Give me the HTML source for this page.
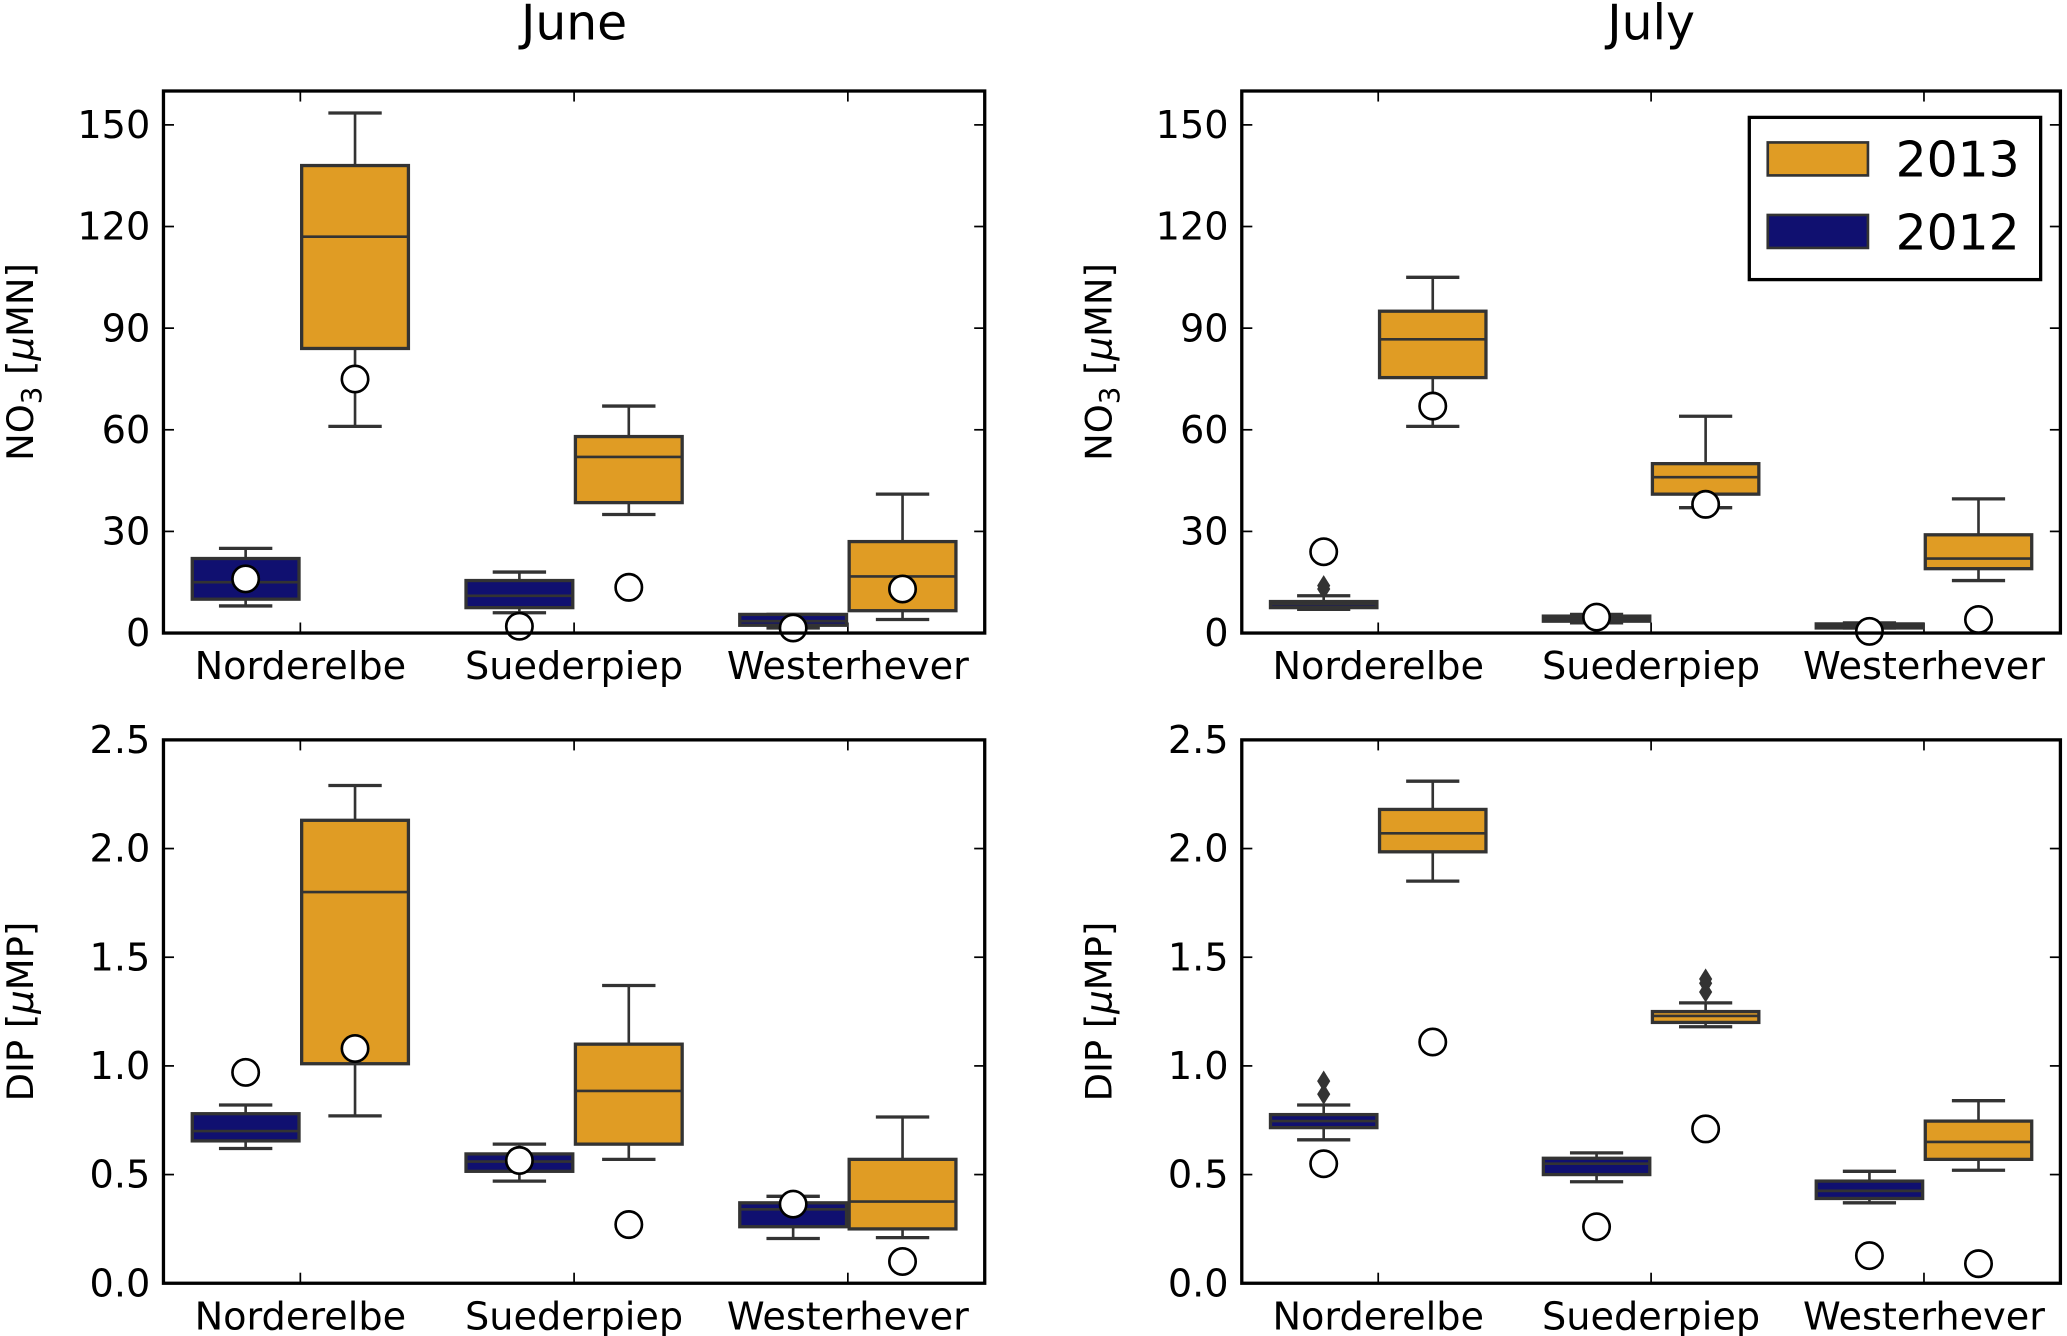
<!DOCTYPE html>
<html><head><meta charset="utf-8"><style>
html,body{margin:0;padding:0;background:#fff;overflow:hidden;}
svg{display:block;font-family:"DejaVu Sans","Liberation Sans",sans-serif;}
</style></head><body>
<svg id="fig" width="2067" height="1336" viewBox="0 0 1568 1013" preserveAspectRatio="none" xmlns="http://www.w3.org/2000/svg"></svg>
<script>
const categories = ["Norderelbe","Suederpiep","Westerhever"];
const hues = ["2012","2013"];
// [low, q1, median, q3, high] per category per hue
const juneNO3_2012 = [[8,10,15,22,25],[6,7.5,11,15.5,18],[1.5,2.3,3.5,5.5,5.5]];
const juneNO3_2013 = [[61,84,117,138,153.5],[35,38.5,52,58,67],[4,6.6,16.7,27,41]];
const juneNO3_circ = [[16,75],[2,13.5],[1.5,13]];
const juneNO3_fliers12 = [[],[],[]];
const juneNO3_fliers13 = [[],[],[]];
const julyNO3_2012 = [[7,7.5,8.5,9.3,11],[3,3.5,4.3,5,5.5],[1.5,1.5,2,2.7,3]];
const julyNO3_2013 = [[61,75.4,86.7,95,105],[37,41,46,50,64],[15.5,19,22,29,39.6]];
const julyNO3_circ = [[24,67],[4.7,38],[0.5,4]];
const julyNO3_fliers12 = [[13,14],[],[]];
const julyNO3_fliers13 = [[],[],[]];
const juneDIP_2012 = [[0.62,0.655,0.70,0.78,0.82],[0.47,0.515,0.56,0.595,0.64],[0.206,0.26,0.34,0.37,0.40]];
const juneDIP_2013 = [[0.77,1.01,1.80,2.13,2.29],[0.57,0.64,0.885,1.10,1.37],[0.21,0.25,0.376,0.57,0.765]];
const juneDIP_circ = [[0.97,1.08],[0.565,0.27],[0.364,0.10]];
const juneDIP_fliers12 = [[],[],[]];
const juneDIP_fliers13 = [[],[],[]];
const julyDIP_2012 = [[0.66,0.716,0.746,0.776,0.82],[0.467,0.50,0.55,0.575,0.60],[0.37,0.39,0.425,0.47,0.515]];
const julyDIP_2013 = [[1.85,1.985,2.07,2.18,2.31],[1.18,1.20,1.23,1.25,1.29],[0.52,0.57,0.65,0.746,0.84]];
const julyDIP_circ = [[0.55,1.11],[0.26,0.71],[0.127,0.09]];
const julyDIP_fliers12 = [[0.87,0.93],[],[]];
const julyDIP_fliers13 = [[],[1.34,1.38,1.40],[]];
const no3Ticks = [0,30,60,90,120,150];
const dipTicks = ["0.0","0.5","1.0","1.5","2.0","2.5"];

const NS="http://www.w3.org/2000/svg";
const svg=document.getElementById('fig');
const ORANGE="#e09c24", BLUE="#101070", EDGE="#333333";
function el(tag,attrs,parent){const e=document.createElementNS(NS,tag);for(const k in attrs)e.setAttribute(k,attrs[k]);(parent||svg).appendChild(e);return e;}

function panel(name,x0,x1,y0,y1,ymax,ticks,ylab,d12,d13,circ,f12,f13,title,legend){
  const g=el('g',{});
  
  
  const ys=v=>y1-(v/ymax)*(y1-y0);
  const gw=(x1-x0)/3;
  const xc=i=>x0+gw*(i+0.5);
  const bw=gw*0.39;
  ticks.forEach(t=>{
    const v=parseFloat(t);const y=ys(v);
    el('line',{x1:x0,x2:x0+8,y1:y,y2:y,stroke:'#000','stroke-width':1.3},g);
    el('line',{x1:x1-8,x2:x1,y1:y,y2:y,stroke:'#000','stroke-width':1.3},g);
    const tx=el('text',{x:x0-10,y:y+10,'text-anchor':'end','font-size':29,fill:'#000'},g);
    tx.textContent=t;
    
    
  });
  categories.forEach((c,i)=>{
    const x=xc(i);
    el('line',{x1:x,x2:x,y1:y1,y2:y1-8,stroke:'#000','stroke-width':1.3},g);
    el('line',{x1:x,x2:x,y1:y0,y2:y0+8,stroke:'#000','stroke-width':1.3},g);
    const tx=el('text',{x:x,y:y1+35,'text-anchor':'middle','font-size':29,fill:'#000'},g);
    tx.textContent=c;
    
    
    [[d12,BLUE,-1,f12],[d13,ORANGE,1,f13]].forEach(([d,col,s,fl],h)=>{
      const q=d[i];const cx=x+s*bw/2+s*1;
      const bx=el('g',{},g);
      
      
      const cap=bw*0.5;
      el('line',{x1:cx,x2:cx,y1:ys(q[0]),y2:ys(q[1]),stroke:EDGE,'stroke-width':2},bx);
      el('line',{x1:cx,x2:cx,y1:ys(q[3]),y2:ys(q[4]),stroke:EDGE,'stroke-width':2},bx);
      el('line',{x1:cx-cap/2,x2:cx+cap/2,y1:ys(q[0]),y2:ys(q[0]),stroke:EDGE,'stroke-width':2.5},bx);
      el('line',{x1:cx-cap/2,x2:cx+cap/2,y1:ys(q[4]),y2:ys(q[4]),stroke:EDGE,'stroke-width':2.5},bx);
      el('rect',{x:cx-bw/2,y:ys(q[3]),width:bw,height:Math.max(1,ys(q[1])-ys(q[3])),fill:col,stroke:EDGE,'stroke-width':2.5},bx);
      el('line',{x1:cx-bw/2,x2:cx+bw/2,y1:ys(q[2]),y2:ys(q[2]),stroke:EDGE,'stroke-width':2},bx);
      fl[i].forEach(v=>{
        const y=ys(v);
        const p=el('polygon',{points:`${cx},${y-8} ${cx+5},${y} ${cx},${y+8} ${cx-5},${y}`,fill:EDGE},bx);
        
        
      });
    });
    [-1,1].forEach((s,h)=>{
      const cx=x+s*bw/2+s*1;
      const ci=el('ellipse',{cx:cx,cy:ys(circ[i][h]),rx:10,ry:10,fill:'#fff',stroke:'#000','stroke-width':2},g);
      
      
    });
  });
  el('rect',{x:x0,y:y0,width:x1-x0,height:y1-y0,fill:'none',stroke:'#000','stroke-width':2.5},g);
  const yl=el('text',{x:0,y:0,transform:`translate(${x0-99},${(y0+y1)/2}) rotate(-90)`,'text-anchor':'middle','font-size':28,fill:'#000'},g);
  yl.innerHTML=ylab;
  
  
  if(title){
    const t=el('text',{x:(x0+x1)/2,y:30,'text-anchor':'middle','font-size':37,fill:'#000'},g);
    t.textContent=title;
    
    
  }
  if(legend){
    const lg=el('g',{},g);
    
    
    el('rect',{x:1327,y:89,width:221,height:123,fill:'#fff',stroke:'#000','stroke-width':2.5},lg);
    [["2013",ORANGE,108],["2012",BLUE,163]].forEach(([l,c,y])=>{
      const e=el('g',{},lg);
      
      
      el('rect',{x:1341,y:y,width:76,height:25,fill:c,stroke:EDGE,'stroke-width':2},e);
      const t=el('text',{x:1438,y:y+26,'font-size':37,fill:'#000'},e);
      t.textContent=l;
    });
  }
}
const no3Lab='NO<tspan font-size="21" dy="6">3</tspan><tspan dy="-6"> [</tspan><tspan font-style="italic">μ</tspan>MN]';
const dipLab='DIP [<tspan font-style="italic">μ</tspan>MP]';
panel('june-no3-panel',124,747,69,480,160,no3Ticks.map(String),no3Lab,juneNO3_2012,juneNO3_2013,juneNO3_circ,juneNO3_fliers12,juneNO3_fliers13,'June',false);
panel('july-no3-panel',942,1563,69,480,160,no3Ticks.map(String),no3Lab,julyNO3_2012,julyNO3_2013,julyNO3_circ,julyNO3_fliers12,julyNO3_fliers13,'July',true);
panel('june-dip-panel',124,747,561,973,2.5,dipTicks,dipLab,juneDIP_2012,juneDIP_2013,juneDIP_circ,juneDIP_fliers12,juneDIP_fliers13,null,false);
panel('july-dip-panel',942,1563,561,973,2.5,dipTicks,dipLab,julyDIP_2012,julyDIP_2013,julyDIP_circ,julyDIP_fliers12,julyDIP_fliers13,null,false);
</script>
</body></html>
